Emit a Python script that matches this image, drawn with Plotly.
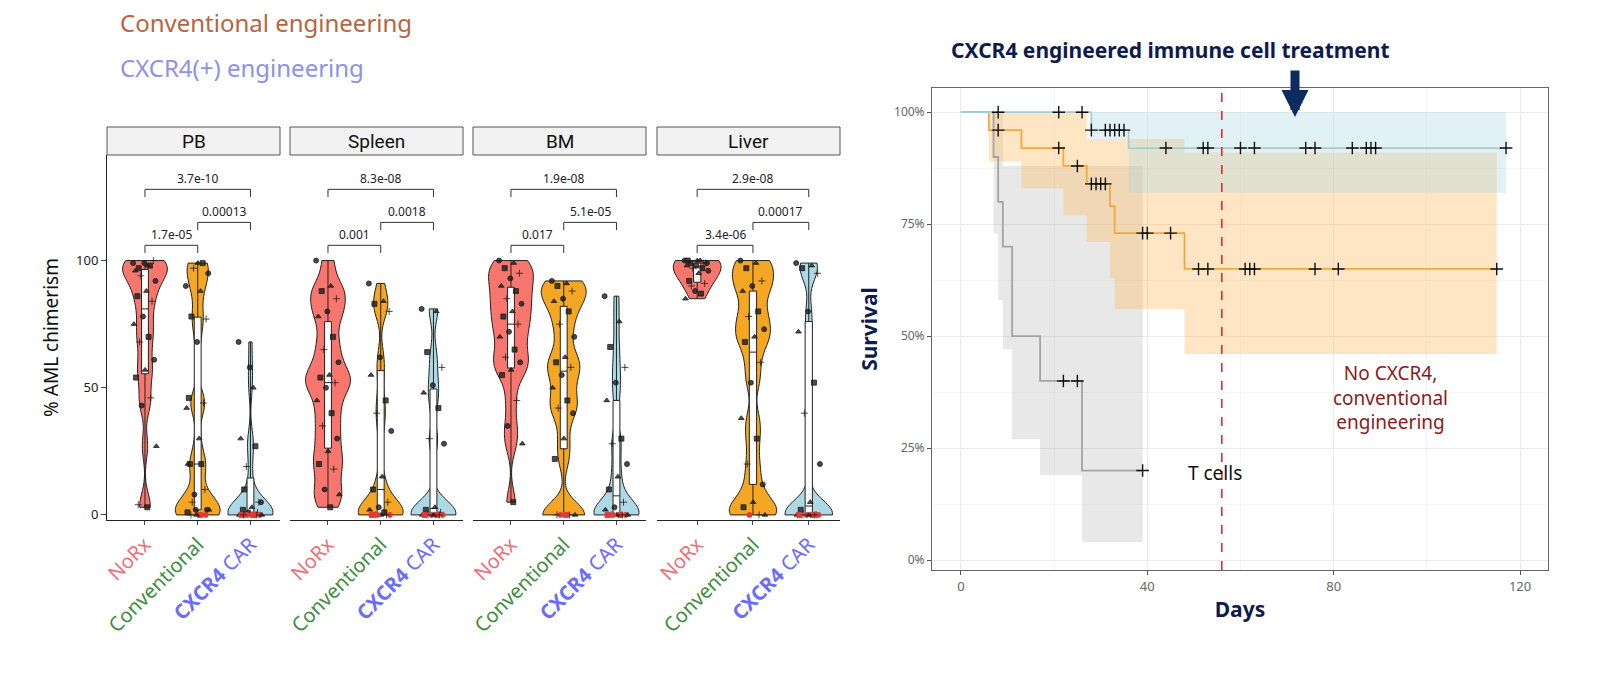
import plotly.graph_objects as go
import numpy as np

facets = ["PB", "Spleen", "BM", "Liver"]
groups = ["NoRx", "Conventional", "CXCR4 CAR"]
chim = {
 "PB": [
  [99,98,97,100,99,96,98,94,92,88,86,84,78,75,70,68,61,57,54,46,43,27,3,4],
  [90,88,78,77,68,20,99,97,95,30,20,10,2,42,20,5,2,99,46,44,8,2,0,0,0,0,1],
  [68,50,10,5,58,30,27,19,5,3,2,1,1,0,0,0,0,0,0,0,0,0,0,0]],
 "Spleen": [
  [100,90,88,85,80,78,70,65,60,55,54,52,50,45,40,35,30,25,20,18,10,8,3],
  [91,84,83,80,62,55,45,40,33,15,10,5,3,2,1,0,0,0,0,0,0],
  [81,80,64,58,51,48,42,30,28,3,2,1,0,0,0,0,0,0,0,0]],
 "BM": [
  [100,99,97,95,93,90,88,85,83,80,78,75,72,70,65,62,60,57,55,45,35,28,5],
  [92,91,90,88,85,84,80,75,70,62,60,58,55,50,45,42,40,30,22,0,0,0,0,0],
  [86,76,66,58,52,45,30,28,20,15,10,5,3,2,0,0,0,0,0,0,0,0]],
 "Liver": [
  [100,100,99,99,98,98,97,97,96,95,92,91,88,85,87,90,99,100,100,99],
  [100,99,97,92,90,88,80,78,73,70,68,60,52,38,30,20,12,5,3,0,0,0],
  [99,98,97,95,80,72,52,40,20,5,2,0,0,0,0,0,0,0,0,0]],
}
pvals = {
 "PB": ["1.7e-05","0.00013","3.7e-10"],
 "Spleen": ["0.001","0.0018","8.3e-08"],
 "BM": ["0.017","5.1e-05","1.9e-08"],
 "Liver": ["3.4e-06","0.00017","2.9e-08"],
}
tick_labels = ["<span style='color:#F0707A'>NoRx</span>",
               "<span style='color:#3E8E3E'>Conventional</span>",
               "<span style='color:#6B6BFF'><b>CXCR4</b> CAR</span>"]

km = {
 "blue":   dict(t=[0,28,36,117], s=[100,96,92,92],
                lo=[100,94,82,82], hi=[100,100,100,100],
                cens=[8,21,26,28,31,32,33,34,35,44,52,53,60,63,74,76,84,87,88,89,117]),
 "orange": dict(t=[0,6,13,22,27,32,33,48,115], s=[100,96,92,88,84,79,73,65,65],
                lo=[100,89,83,77,71,63,56,46,46], hi=[100,100,100,100,94,94,94,91,91],
                cens=[8,21,25,28,29,30,31,39,40,45,51,53,61,62,63,76,81,115]),
 "grey":   dict(t=[0,7,8,9,11,17,26,39], s=[100,90,80,70,50,40,20,20],
                lo=[100,73,58,47,27,19,4,4], hi=[100,100,100,88,88,88,88,88],
                cens=[22,25,39]),
}
km_line = {"blue":"#A6CED2","orange":"#F2A93B","grey":"#A3A3A3"}
km_fill = {"blue":"rgba(173,216,230,0.35)","orange":"rgba(253,190,100,0.38)","grey":"rgba(180,180,180,0.3)"}

vfill = ["#F8766D", "#F5A623", "#ADD8E6"]
syms = ["circle", "triangle-up", "square", "cross-thin"]

fig = go.Figure()
W, H = 1600, 688
fx = [(107,280),(290,463),(473,646),(657,840)]
ydom = [1-520/H, 1-155/H]
shapes, annos = [], []

for k, f in enumerate(facets):
    ax = "" if k == 0 else str(k+1)
    xa, ya = "x"+ax, "y"+ax
    for g in range(3):
        vals = np.array(chim[f][g], dtype=float)
        fig.add_trace(go.Violin(x0=g+1, y=vals, xaxis=xa, yaxis=ya, fillcolor=vfill[g],
                                line=dict(color="#222", width=1), opacity=1, points=False,
                                spanmode="hard", scalegroup=f, scalemode="width", width=0.85,
                                bandwidth=5, showlegend=False, hoverinfo="skip"))
        fig.add_trace(go.Box(x0=g+1, y=vals, xaxis=xa, yaxis=ya, fillcolor="white",
                             line=dict(color="#222", width=1), boxpoints=False, width=0.13,
                             showlegend=False, whiskerwidth=0))
        n = len(vals)
        off = np.array([((i*0.618) % 1 - 0.5)*0.45 for i in range(n)])
        sy = [syms[i % 4] for i in range(n)]
        col = ["#E53935" if (v == 0 and g > 0 and i % 2 == 0) else "rgba(30,30,30,0.8)" for i, v in enumerate(vals)]
        fig.add_trace(go.Scatter(x=g+1+off, y=vals, xaxis=xa, yaxis=ya, mode="markers",
                                 marker=dict(symbol=sy, size=5, color=col,
                                             line=dict(width=1, color=col)),
                                 showlegend=False))
    for (a, b, yy, lab) in [(1,2,106,pvals[f][0]),(2,3,115,pvals[f][1]),(1,3,128,pvals[f][2])]:
        shapes.append(dict(type="path", xref=xa, yref=ya,
                           path=f"M {a},{yy-3} L {a},{yy} L {b},{yy} L {b},{yy-3}",
                           line=dict(color="#333", width=1)))
        annos.append(dict(xref=xa, yref=ya, x=(a+b)/2, y=yy, text=lab, showarrow=False,
                          yanchor="bottom", font=dict(size=12, color="#222")))
    x0, x1 = fx[k]
    dom = [x0/W, x1/W]
    fig.layout["xaxis"+ax] = dict(domain=dom, range=[0.28, 3.56], tickvals=[1,2,3], automargin=False,
                                  ticktext=tick_labels, tickangle=-45, tickfont=dict(size=20, family="Noto Sans"),
                                  showline=True, linecolor="#222", ticks="outside", ticklen=4,
                                  showgrid=False, zeroline=False, anchor=ya)
    fig.layout["yaxis"+ax] = dict(domain=ydom, range=[-2, 141.5], tickvals=[0,50,100], automargin=False,
                                  showticklabels=(k == 0), showline=(k == 0), linecolor="#222",
                                  ticks="outside" if k == 0 else "", showgrid=False, zeroline=False,
                                  tickfont=dict(size=13, color="#222"), anchor=xa,
                                  title=dict(text="% AML chimerism", font=dict(size=19, color="#111"), standoff=12) if k == 0 else None)
    shapes.append(dict(type="rect", xref="paper", yref="paper", x0=x0/W, x1=x1/W,
                       y0=1-155/H, y1=1-127/H, fillcolor="#F2F2F2", line=dict(color="#555", width=1)))
    annos.append(dict(xref="paper", yref="paper", x=(x0+x1)/2/W, y=1-141/H, text=f, showarrow=False,
                      xanchor="center", yanchor="middle",
                      font=dict(size=19, color="#111", family="Roboto")))

for key in ["grey", "orange", "blue"]:
    d = km[key]
    fig.add_trace(go.Scatter(x=d["t"], y=d["lo"], xaxis="x5", yaxis="y5", mode="lines",
                             line=dict(width=0, shape="hv"), showlegend=False, hoverinfo="skip"))
    fig.add_trace(go.Scatter(x=d["t"], y=d["hi"], xaxis="x5", yaxis="y5", mode="lines",
                             line=dict(width=0, shape="hv"), fill="tonexty", fillcolor=km_fill[key],
                             showlegend=False, hoverinfo="skip"))
for key in ["grey", "orange", "blue"]:
    d = km[key]
    fig.add_trace(go.Scatter(x=d["t"], y=d["s"], xaxis="x5", yaxis="y5", mode="lines",
                             line=dict(width=1.8, shape="hv", color=km_line[key]), showlegend=False))
    t = np.array(d["t"]); s = np.array(d["s"])
    cy = [s[np.searchsorted(t, c, side="right")-1] for c in d["cens"]]
    fig.add_trace(go.Scatter(x=d["cens"], y=cy, xaxis="x5", yaxis="y5", mode="markers",
                             marker=dict(symbol="cross-thin", size=9, line=dict(width=1.4, color="#111")),
                             showlegend=False))

fig.layout["xaxis5"] = dict(domain=[932/W, 1548/W], range=[-6.2, 126], tickvals=[0,40,80,120],
                            anchor="y5", showgrid=True, gridcolor="#EBEBEB", zeroline=False, automargin=False,
                            minor=dict(dtick=20, showgrid=True, gridcolor="#F5F5F5"),
                            ticks="outside", ticklen=4, tickcolor="#555", tickfont=dict(size=13, color="#666"),
                            showline=True, mirror=True, linecolor="#666",
                            title=dict(text="<b>Days</b>", font=dict(size=21, color="#0D1B4F"), standoff=8))
fig.layout["yaxis5"] = dict(domain=[1-570/H, 1-88/H], range=[-2.2, 105.4], tickvals=[0,25,50,75,100],
                            ticktext=["0%","25%","50%","75%","100%"], anchor="x5", automargin=False,
                            showgrid=True, gridcolor="#EBEBEB", zeroline=False,
                            minor=dict(dtick=12.5, showgrid=True, gridcolor="#F5F5F5"),
                            ticks="outside", ticklen=4, tickcolor="#555", tickfont=dict(size=12, color="#666"),
                            showline=True, mirror=True, linecolor="#666",
                            title=dict(text="<b>Survival</b>", font=dict(size=21, color="#0D1B4F"), standoff=10))
shapes.append(dict(type="line", xref="x5", yref="paper", x0=56, x1=56, y0=1-570/H, y1=1-88/H,
                   line=dict(color="#E02020", width=1.5, dash="dash")))

def txt(x, y, text, size, color, xanchor="center"):
    return dict(xref="paper", yref="paper", x=x/W, y=1-y/H, text=text, showarrow=False,
                xanchor=xanchor, yanchor="middle", font=dict(size=size, color=color, family="Noto Sans"))

annos += [
 txt(118, 22, "Conventional engineering", 24, "#B8643C", "left"),
 txt(118, 67, "CXCR4(+) engineering", 24, "#8F90E8", "left"),
 txt(1170, 50, "<b>CXCR4 engineered immune cell treatment</b>", 21, "#0D1B4F"),
 dict(xref="paper", yref="paper", x=1295/W, y=1-117/H, ax=0, ay=-48, text="", showarrow=True,
      arrowhead=2, arrowsize=0.6, arrowwidth=9, arrowcolor="#0D2B5E"),
 txt(1390, 397, "No CXCR4,<br>conventional<br>engineering", 19, "#8B1A1A"),
 txt(1215, 473, "T cells", 19, "#111"),
]

fig.update_layout(width=W, height=H, margin=dict(l=0, r=0, t=0, b=0), plot_bgcolor="white",
                  paper_bgcolor="white", shapes=shapes, annotations=annos, showlegend=False,
                  font=dict(family="Noto Sans"))
fig.write_html("out.html", config={"displayModeBar": False},
               post_script="document.body.style.margin='0';document.body.style.overflow='hidden';")
